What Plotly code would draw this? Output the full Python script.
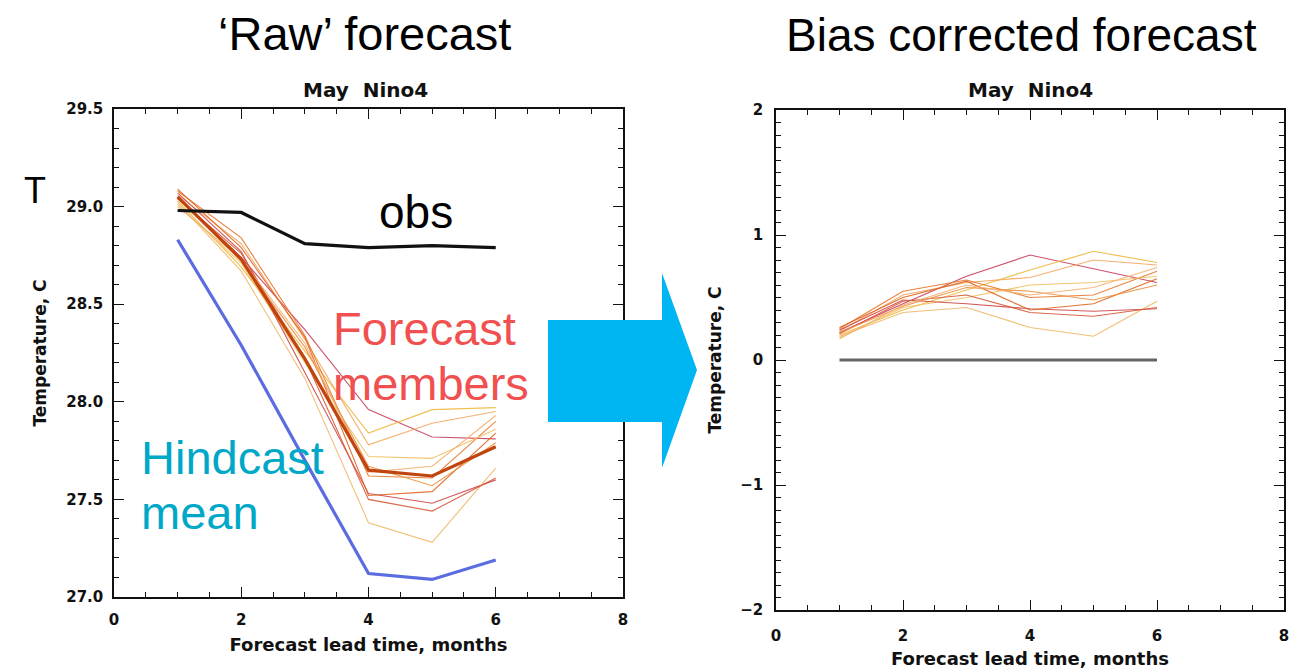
import plotly.graph_objects as go

# The page body adds an 8px margin, so the figure is drawn 8px smaller and
# every reference position is shifted by that offset.
OFF = 8
W, H = 1306 - OFF, 672 - OFF

# ---------------- data ----------------
lead = [1, 2, 3, 4, 5, 6]

obs_raw = [28.98, 28.97, 28.81, 28.79, 28.80, 28.79]
hindcast_mean = [28.83, 28.29, 27.70, 27.12, 27.09, 27.19]
ens_mean_raw = [29.05, 28.73, 28.22, 27.65, 27.62, 27.77]

raw_m01 = [29.05, 28.74, 28.37, 27.96, 27.82, 27.81]
raw_m02 = [29.03, 28.69, 28.26, 27.84, 27.96, 27.97]
raw_m03 = [29.06, 28.81, 28.32, 27.78, 27.89, 27.95]
raw_m04 = [29.08, 28.84, 28.34, 27.62, 27.61, 27.90]
raw_m05 = [29.01, 28.71, 28.20, 27.72, 27.71, 27.86]
raw_m06 = [29.07, 28.77, 28.15, 27.53, 27.48, 27.60]
raw_m07 = [29.09, 28.79, 28.33, 27.52, 27.54, 27.84]
raw_m08 = [29.02, 28.67, 28.12, 27.38, 27.28, 27.66]
raw_m09 = [29.04, 28.76, 28.22, 27.50, 27.44, 27.61]
raw_m10 = [29.05, 28.72, 28.28, 27.67, 27.57, 27.79]
raw_m11 = [29.00, 28.73, 28.30, 27.64, 27.67, 27.93]

obs_corr = [0.0, 0.0, 0.0, 0.0, 0.0, 0.0]
corr_m01 = [0.22, 0.45, 0.67, 0.84, 0.73, 0.62]
corr_m02 = [0.20, 0.40, 0.56, 0.72, 0.87, 0.78]
corr_m03 = [0.23, 0.52, 0.62, 0.66, 0.80, 0.76]
corr_m04 = [0.25, 0.55, 0.64, 0.50, 0.52, 0.71]
corr_m05 = [0.18, 0.42, 0.50, 0.60, 0.62, 0.67]
corr_m06 = [0.24, 0.48, 0.45, 0.41, 0.39, 0.41]
corr_m07 = [0.26, 0.50, 0.63, 0.40, 0.45, 0.65]
corr_m08 = [0.19, 0.38, 0.42, 0.26, 0.19, 0.47]
corr_m09 = [0.21, 0.47, 0.52, 0.38, 0.35, 0.42]
corr_m10 = [0.22, 0.43, 0.58, 0.55, 0.48, 0.60]
corr_m11 = [0.17, 0.44, 0.60, 0.52, 0.58, 0.74]

member_colors = ['#c8405c', '#f0b840', '#f4a860', '#e8782c', '#f2c060', '#d04848',
                 '#e06420', '#f0b868', '#d85838', '#ec9040', '#f4b070']

raw_members = [raw_m01, raw_m02, raw_m03, raw_m04, raw_m05, raw_m06,
               raw_m07, raw_m08, raw_m09, raw_m10, raw_m11]
corr_members = [corr_m01, corr_m02, corr_m03, corr_m04, corr_m05, corr_m06,
                corr_m07, corr_m08, corr_m09, corr_m10, corr_m11]

x_ticks = [0, 2, 4, 6, 8]
left_y_ticks = [27.0, 27.5, 28.0, 28.5, 29.0, 29.5]
right_y_ticks = [-2, -1, 0, 1, 2]

# ---------------- figure ----------------
fig = go.Figure()

for vals, col in zip(raw_members, member_colors):
    fig.add_trace(go.Scatter(x=lead, y=vals, mode='lines', line=dict(color=col, width=1.1),
                             opacity=0.9, xaxis='x', yaxis='y', showlegend=False, hoverinfo='skip'))
fig.add_trace(go.Scatter(x=lead, y=ens_mean_raw, mode='lines', line=dict(color='#c0440e', width=3.2),
                         xaxis='x', yaxis='y', showlegend=False))
fig.add_trace(go.Scatter(x=lead, y=obs_raw, mode='lines', line=dict(color='#111111', width=3.2),
                         xaxis='x', yaxis='y', showlegend=False))
fig.add_trace(go.Scatter(x=lead, y=hindcast_mean, mode='lines', line=dict(color='#5a6ce0', width=3.2),
                         xaxis='x', yaxis='y', showlegend=False))

for vals, col in zip(corr_members, member_colors):
    fig.add_trace(go.Scatter(x=lead, y=vals, mode='lines', line=dict(color=col, width=1.2),
                             opacity=0.9, xaxis='x2', yaxis='y2', showlegend=False, hoverinfo='skip'))
fig.add_trace(go.Scatter(x=lead, y=obs_corr, mode='lines', line=dict(color='#666666', width=2.8),
                         xaxis='x2', yaxis='y2', showlegend=False))


def px(x):
    return (x - OFF) / W


def py(y):
    return 1 - (y - OFF) / H


tick_font = dict(family='DejaVu Sans', size=15, color='#111111', weight='bold')
xtitle_font = dict(family='DejaVu Sans', size=18, color='#111111', weight='bold')
ytitle_font = dict(family='DejaVu Sans', size=17, color='#111111', weight='bold')

common_axis = dict(showline=True, linecolor='#111111', linewidth=1.5, mirror='ticks',
                   ticks='inside', tickcolor='#111111', ticklen=10, tickwidth=1.3,
                   showgrid=False, zeroline=False, tickfont=tick_font, fixedrange=True,
                   automargin=False)

fig.update_layout(
    template='none',
    width=W, height=H, autosize=False,
    margin=dict(l=0, r=0, t=0, b=0, pad=0, autoexpand=False),
    paper_bgcolor='white', plot_bgcolor='white',
    xaxis=dict(common_axis, domain=[px(114), px(623)], range=[0, 8], tickvals=x_ticks,
               ticktext=[str(v) for v in x_ticks], ticklabelstandoff=8,
               minor=dict(dtick=0.5, ticks='inside', ticklen=5, tickcolor='#111111'),
               title=dict(text='Forecast lead time, months', font=xtitle_font, standoff=11),
               anchor='y'),
    yaxis=dict(common_axis, domain=[py(597), py(109)], range=[27.0, 29.5], tickvals=left_y_ticks,
               tickformat='.1f', ticklabelstandoff=6,
               minor=dict(dtick=0.1, ticks='inside', ticklen=5, tickcolor='#111111'),
               title=dict(text='Temperature, C', font=ytitle_font, standoff=15),
               anchor='x'),
    xaxis2=dict(common_axis, domain=[px(776), px(1284)], range=[0, 8], tickvals=x_ticks,
                ticktext=[str(v) for v in x_ticks], ticklabelstandoff=11,
                minor=dict(dtick=0.5, ticks='inside', ticklen=5, tickcolor='#111111'),
                title=dict(text='Forecast lead time, months', font=xtitle_font, standoff=9),
                anchor='y2'),
    yaxis2=dict(common_axis, domain=[py(610), py(110)], range=[-2, 2], tickvals=right_y_ticks,
                ticklabelstandoff=8,
                minor=dict(dtick=0.1, ticks='inside', ticklen=5, tickcolor='#111111'),
                title=dict(text='Temperature, C', font=ytitle_font, standoff=14),
                anchor='x2'),
)

big = 'Liberation Sans, Arial, sans-serif'
nino_font = dict(family='DejaVu Sans', size=20, color='#111111', weight='bold')
annotations = [
    dict(text='\u2018Raw\u2019 forecast', x=px(364), y=py(33), font=dict(family=big, size=47, color='black')),
    dict(text='Bias corrected forecast', x=px(1021), y=py(35), font=dict(family=big, size=46, color='black')),
    dict(text='May  Nino4', x=px(365), y=py(90), font=nino_font),
    dict(text='May  Nino4', x=px(1030), y=py(90), font=nino_font),
    dict(text='T', x=px(35), y=py(190), font=dict(family=big, size=36, color='black')),
    dict(text='obs', x=px(416), y=py(212), font=dict(family=big, size=46, color='black')),
    dict(text='Forecast', x=px(331), y=py(328), xanchor='left', font=dict(family=big, size=47, color='#f05050')),
    dict(text='members', x=px(331), y=py(383), xanchor='left', font=dict(family=big, size=47, color='#f05050')),
    dict(text='Hindcast', x=px(139), y=py(457), xanchor='left', font=dict(family=big, size=47, color='#00a8c8')),
    dict(text='mean', x=px(139), y=py(512), xanchor='left', font=dict(family=big, size=47, color='#00a8c8')),
]
for a in annotations:
    a.setdefault('xanchor', 'center')
    a.update(xref='paper', yref='paper', showarrow=False, yanchor='middle')
fig.update_layout(annotations=annotations)

# big arrow between the panels
arrow = [(548, 320), (662, 320), (662, 273), (697, 370), (662, 468), (662, 422), (548, 422)]
path = 'M ' + ' L '.join(f'{px(x):.5f},{py(y):.5f}' for x, y in arrow) + ' Z'
fig.add_shape(type='path', path=path, xref='paper', yref='paper',
              fillcolor='#00b6f2', line=dict(width=0), layer='above')

fig.write_html('out.html')
